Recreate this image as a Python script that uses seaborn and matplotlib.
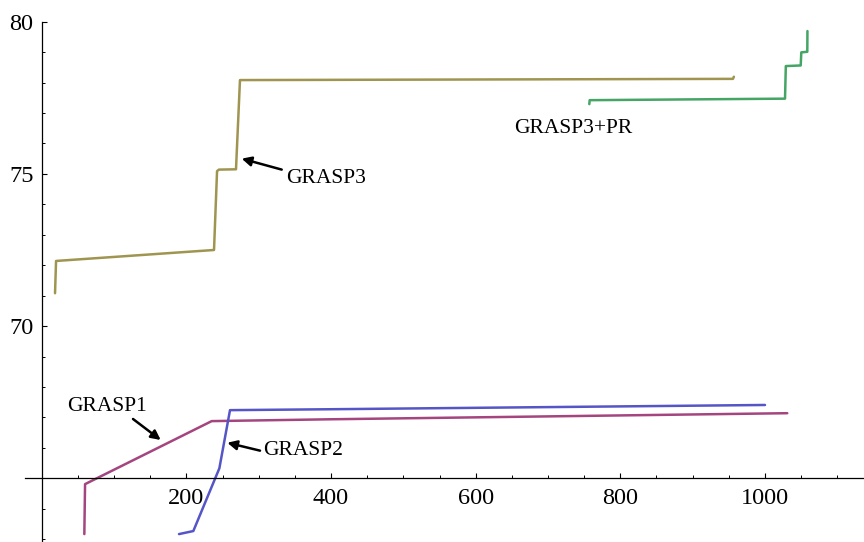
import numpy as np
import pandas as pd
import matplotlib
matplotlib.use("Agg")
import matplotlib.pyplot as plt
import seaborn as sns

# ---- data ----
grasp1_x = [58.9, 59.9, 235.0, 398.6, 1030.8]
grasp1_y = [63.17, 64.81, 66.88, 66.94, 67.14]

grasp2_x = [189.8, 209.6, 245.6, 260.3, 398.6, 1000.0]
grasp2_y = [63.17, 63.27, 65.33, 67.24, 67.27, 67.41]

grasp3_x = [18.4, 19.8, 238.2, 242.4, 245.0, 268.6, 274.1, 955.7, 957.0]
grasp3_y = [71.08, 72.14, 72.50, 75.09, 75.14, 75.15, 78.08, 78.12, 78.19]

grasp3pr_x = [757.1, 757.6, 1027.7, 1028.8, 1049.4, 1050.2, 1058.5, 1058.7]
grasp3pr_y = [77.29, 77.42, 77.47, 78.54, 78.56, 78.99, 79.01, 79.69]

series_names = ["GRASP1", "GRASP2", "GRASP3", "GRASP3+PR"]
series_colors = ["#A4457F", "#5555C8", "#A09550", "#45A565"]

x_major = [200, 400, 600, 800, 1000]
y_major = [70, 75, 80]

frames = []
for name, xs, ys in zip(series_names,
                        [grasp1_x, grasp2_x, grasp3_x, grasp3pr_x],
                        [grasp1_y, grasp2_y, grasp3_y, grasp3pr_y]):
    frames.append(pd.DataFrame({"x": xs, "y": ys, "series": name}))
df = pd.concat(frames, ignore_index=True)

sns.set_style("white")
plt.rcParams["font.family"] = ["Liberation Serif", "DejaVu Serif"]

fig = plt.figure(figsize=(8.64, 5.42), dpi=100)
ax = fig.add_axes([0, 0, 1, 1])

sns.lineplot(data=df, x="x", y="y", hue="series", units="series",
             estimator=None, sort=False, palette=dict(zip(series_names, series_colors)),
             legend=False, linewidth=1.8, ax=ax)

ax.set_xlim(-57.7, 1136.9)
ax.set_ylim(62.91, 80.71)
ax.set_xlabel("")
ax.set_ylabel("")

for s in ["top", "right"]:
    ax.spines[s].set_visible(False)
ax.spines["left"].set_position(("data", 0))
ax.spines["bottom"].set_position(("data", 65))
ax.spines["left"].set_bounds(62.91, 80)
ax.spines["bottom"].set_bounds(-23, 1136.9)
for s in ["left", "bottom"]:
    ax.spines[s].set_color("black")
    ax.spines[s].set_linewidth(0.9)

ax.set_xticks(x_major)
ax.set_xticklabels([str(v) for v in x_major])
ax.set_xticks([v for v in range(50, 1101, 50) if v not in x_major], minor=True)
ax.set_yticks(y_major)
ax.set_yticklabels([str(v) for v in y_major])
ax.set_yticks([v for v in range(63, 81) if v not in y_major and v != 65], minor=True)

ax.tick_params(axis="x", which="both", bottom=True, top=False)
ax.tick_params(axis="y", which="both", left=True, right=False)
ax.tick_params(axis="both", which="major", direction="in", length=3.8, width=0.8,
               color="black", labelsize=17.5, labelcolor="black")
ax.tick_params(axis="both", which="minor", direction="in", length=2.2, width=0.7,
               color="black")
ax.tick_params(axis="x", which="major", pad=7)
ax.tick_params(axis="y", which="major", pad=6)

arrow_kw = dict(arrowstyle="-|>", color="black", lw=1.8, mutation_scale=14,
                shrinkA=0, shrinkB=0)
txt_kw = dict(fontsize=15.5, color="black", va="center", ha="left")

ax.text(337.8, 74.86, "GRASP3", **txt_kw)
ax.annotate("", xy=(276.5, 75.5), xytext=(331.8, 75.14), arrowprops=arrow_kw)

ax.text(653, 76.5, "GRASP3+PR", **txt_kw)

ax.text(34.6, 67.37, "GRASP1", **txt_kw)
ax.annotate("", xy=(164.5, 66.26), xytext=(126.2, 66.95), arrowprops=arrow_kw)

ax.text(306, 65.91, "GRASP2", **txt_kw)
ax.annotate("", xy=(256.6, 66.17), xytext=(301.8, 65.91), arrowprops=arrow_kw)

fig.savefig("out.png", dpi=100, facecolor="white")
